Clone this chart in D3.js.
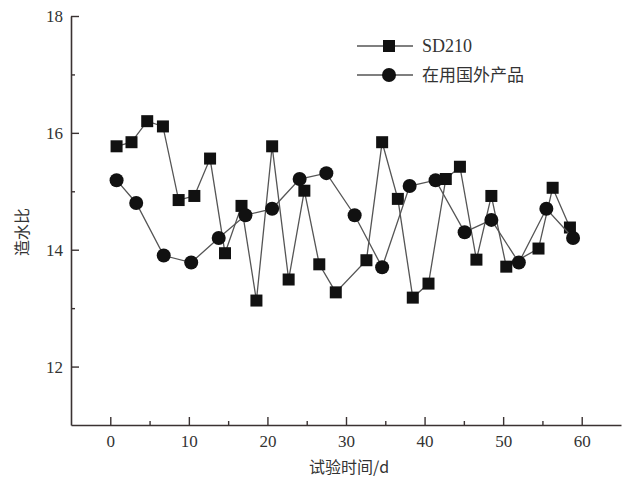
<!DOCTYPE html>
<html>
<head>
<meta charset="utf-8">
<script src="https://cdn.jsdelivr.net/npm/d3@7"></script>
<style>
  html, body { margin: 0; padding: 0; background: #fff; }
  #chart { width: 622px; height: 482px; }
</style>
</head>
<body>
<div id="chart"></div>
<script>
// SD210 readings (day, ratio)
const sdDays = [0.8, 2.7, 4.7, 6.7, 8.7, 10.7, 12.7, 14.6, 16.7, 18.6, 20.6, 22.7, 24.7, 26.6, 28.7,
                32.6, 34.6, 36.6, 38.5, 40.5, 42.7, 44.5, 46.6, 48.5, 50.4, 54.5, 56.3, 58.5];
const sdValues = [15.77, 15.84, 16.2, 16.11, 14.85, 14.92, 15.56, 13.94, 14.75, 13.13, 15.77, 13.49, 15.01, 13.75, 13.27,
                  13.82, 15.84, 14.87, 13.18, 13.42, 15.21, 15.42, 13.83, 14.92, 13.71, 14.02, 15.06, 14.38];

// imported product readings
const fgDays = [0.8, 3.3, 6.8, 10.3, 13.8, 17.2, 20.6, 24.1, 27.5, 31.1, 34.6, 38.1, 41.4, 45.1, 48.5, 52.0, 55.5, 58.9];
const fgValues = [15.19, 14.8, 13.9, 13.78, 14.2, 14.59, 14.7, 15.21, 15.31, 14.59, 13.7, 15.09, 15.19, 14.3, 14.51, 13.78, 14.7, 14.2];

const seriesNames = ["SD210", "在用国外产品"];
const xTicks = [0, 10, 20, 30, 40, 50, 60];
const xMinor = [5, 15, 25, 35, 45, 55];
const yTicks = [12, 14, 16, 18];
const yMinor = [13, 15, 17];

const W = 622, H = 482;
const margin = { left: 71, right: 1, top: 16, bottom: 57 };
const font = "'Liberation Serif', 'Times New Roman', serif";
const cjk = "'Noto Sans CJK SC', serif";

const svg = d3.select("#chart").append("svg")
  .attr("width", W).attr("height", H)
  .attr("viewBox", `0 0 ${W} ${H}`);

svg.append("rect").attr("width", W).attr("height", H).attr("fill", "#fff");

const x = d3.scaleLinear().domain([-5, 65]).range([margin.left, W - margin.right]);
const y = d3.scaleLinear().domain([11, 18]).range([H - margin.bottom, margin.top]);

// axes
const gx = svg.append("g").attr("transform", `translate(0,${y(11)})`)
  .call(d3.axisBottom(x).tickValues(xTicks).tickFormat(d3.format("d")).tickSize(-8).tickPadding(10).tickSizeOuter(0));
const gxm = svg.append("g").attr("transform", `translate(0,${y(11)})`)
  .call(d3.axisBottom(x).tickValues(xMinor).tickSize(-4).tickFormat(""));
gxm.select(".domain").remove();

const gy = svg.append("g").attr("transform", `translate(${x(-5)},0)`)
  .call(d3.axisLeft(y).tickValues(yTicks).tickFormat(d3.format("d")).tickSize(-8).tickPadding(8).tickSizeOuter(0));
const gym = svg.append("g").attr("transform", `translate(${x(-5)},0)`)
  .call(d3.axisLeft(y).tickValues(yMinor).tickSize(-4).tickFormat(""));
gym.select(".domain").remove();

svg.selectAll(".domain").attr("stroke", "#3a3232").attr("stroke-width", 1.6);
svg.selectAll(".tick line").attr("stroke", "#3a3232").attr("stroke-width", 1.4);
svg.selectAll(".tick text").attr("font-family", font).attr("font-size", 17).attr("fill", "#333");

// axis titles
svg.append("text")
  .attr("x", 349).attr("y", 473)
  .attr("text-anchor", "middle")
  .attr("font-family", cjk).attr("font-size", 16).attr("fill", "#333")
  .text("试验时间/d");

svg.append("text")
  .attr("transform", "translate(28,232) rotate(-90)")
  .attr("text-anchor", "middle")
  .attr("font-family", cjk).attr("font-size", 16).attr("fill", "#333")
  .text("造水比");

// series
const line = d3.line().x(d => x(d[0])).y(d => y(d[1]));
const sd = sdDays.map((d, i) => [d, sdValues[i]]);
const fg = fgDays.map((d, i) => [d, fgValues[i]]);

svg.append("path").datum(sd).attr("d", line)
  .attr("fill", "none").attr("stroke", "#555").attr("stroke-width", 1.3);
svg.append("g").selectAll("rect").data(sd).join("rect")
  .attr("x", d => x(d[0]) - 6).attr("y", d => y(d[1]) - 6)
  .attr("width", 12).attr("height", 12).attr("fill", "#111");

svg.append("path").datum(fg).attr("d", line)
  .attr("fill", "none").attr("stroke", "#555").attr("stroke-width", 1.3);
svg.append("g").selectAll("circle").data(fg).join("circle")
  .attr("cx", d => x(d[0])).attr("cy", d => y(d[1]))
  .attr("r", 7).attr("fill", "#111");

// legend
const lg = svg.append("g");
seriesNames.forEach((name, i) => {
  const ly = 46 + i * 29;
  lg.append("line").attr("x1", 357).attr("x2", 413).attr("y1", ly).attr("y2", ly)
    .attr("stroke", "#555").attr("stroke-width", 1.3);
  if (i === 0) {
    lg.append("rect").attr("x", 383).attr("y", ly - 6).attr("width", 12).attr("height", 12).attr("fill", "#111");
  } else {
    lg.append("circle").attr("cx", 389).attr("cy", ly).attr("r", 7).attr("fill", "#111");
  }
  lg.append("text").attr("x", 422).attr("y", ly).attr("dy", "0.35em")
    .attr("font-family", i === 0 ? font : cjk).attr("font-size", i === 0 ? 18 : 17).attr("fill", "#333")
    .text(name);
});
</script>
</body>
</html>
